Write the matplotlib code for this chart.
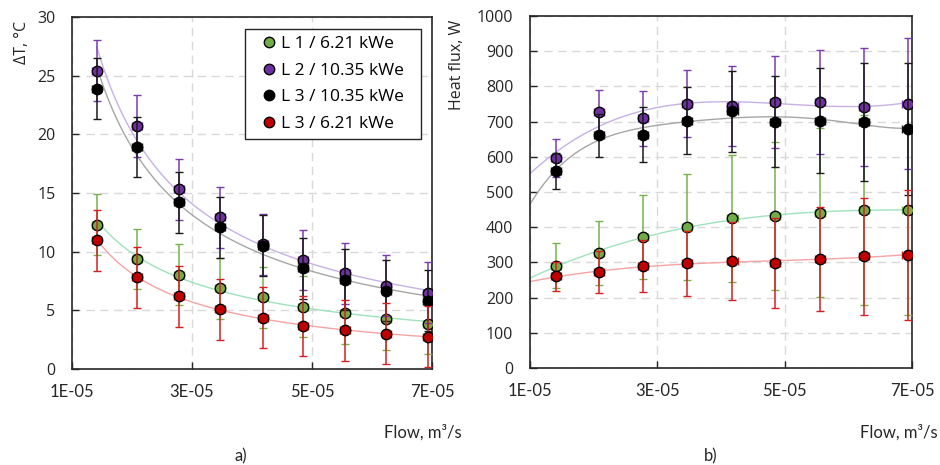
import numpy as np
import matplotlib
matplotlib.use("Agg")
import matplotlib.pyplot as plt
from matplotlib.lines import Line2D

# ---------------- data ----------------
flow = [1.41e-5, 2.08e-5, 2.78e-5, 3.47e-5, 4.18e-5, 4.85e-5, 5.55e-5, 6.24e-5, 6.93e-5]
flow_err = [0.08e-5] * 9

labels = ["L 1 / 6.21 kWe", "L 2 / 10.35 kWe", "L 3 / 10.35 kWe", "L 3 / 6.21 kWe"]

# a) temperature difference, °C
dT_L1_621 = [12.3, 9.4, 8.05, 6.9, 6.1, 5.3, 4.75, 4.26, 3.86]
dT_L2_1035 = [25.4, 20.7, 15.3, 12.95, 10.65, 9.3, 8.15, 7.1, 6.5]
dT_L3_1035 = [23.9, 18.9, 14.2, 12.1, 10.5, 8.6, 7.6, 6.65, 5.8]
dT_L3_621 = [10.97, 7.8, 6.2, 5.1, 4.35, 3.67, 3.3, 3.0, 2.75]
dT_err_L1_621 = [2.6, 2.55, 2.6, 2.6, 2.6, 2.6, 2.6, 2.6, 2.6]
dT_err_L2_1035 = [2.6, 2.65, 2.6, 2.6, 2.6, 2.55, 2.6, 2.6, 2.6]
dT_err_L3_1035 = [2.6, 2.55, 2.6, 2.6, 2.6, 2.6, 2.6, 2.6, 2.6]
dT_err_L3_621 = [2.6, 2.6, 2.6, 2.6, 2.6, 2.55, 2.6, 2.6, 2.6]

# b) heat flux, W
Q_L1_621 = [291, 328, 372, 400, 425, 433, 441, 448, 450]
Q_L2_1035 = [597, 726, 710, 751, 745, 755, 756, 742, 751]
Q_L3_1035 = [560, 661, 663, 703, 729, 700, 703, 698, 679]
Q_L3_621 = [260, 272, 289, 297, 304, 298, 310, 317, 321]
Q_err_L1_621 = [64, 91, 120, 150, 180, 210, 240, 270, 300]
Q_err_L2_1035 = [53, 64, 78, 95, 114, 130, 148, 167, 186]
Q_err_L3_1035 = [52, 61, 78, 95, 114, 130, 149, 168, 187]
Q_err_L3_621 = [40, 59, 74, 93, 111, 128, 148, 166, 185]

# polynomial trend-line orders for panel b)
trend_order_b = [3, 3, 5, 3]

xticks = [1e-5, 3e-5, 5e-5, 7e-5]
xticklabels = ["1E-05", "3E-05", "5E-05", "7E-05"]

# ---------------- styles ----------------
mcol = ["#70AD47", "#7030A0", "#000000", "#C00000"]
ecol = ["#74b34a", "#7a3ab0", "#1a1a1a", "#d42020"]
tcol = ["#9ee3bd", "#c7b1e6", "#a6a6a6", "#f5a3a3"]

W, H = 940, 465
fig = plt.figure(figsize=(W / 100, H / 100), dpi=100)
axA = fig.add_axes([72 / W, 1 - 369 / H, 360 / W, 352 / H])
axB = fig.add_axes([530 / W, 1 - 368 / H, 382 / W, 352 / H])

tick_font = "Open Sans"
cal_font = ["Lato", "DejaVu Sans"]

x = np.array(flow)


def style(ax, ymax, ystep):
    ax.set_xlim(1e-5, 7e-5)
    ax.set_ylim(0, ymax)
    ax.set_xticks(xticks)
    ax.set_xticklabels(xticklabels, fontfamily=cal_font, fontsize=12)
    yt = np.arange(0, ymax + ystep / 2, ystep)
    ax.set_yticks(yt)
    ax.set_yticklabels([f"{int(v)}" for v in yt], fontfamily=tick_font, fontsize=11.5, color="#262626")
    ax.tick_params(axis="y", direction="in", length=5, width=1, pad=12, colors="#262626")
    ax.tick_params(axis="x", direction="in", length=5, width=1, pad=11, colors="#262626")
    ax.grid(True, color="#d9d9d9", linestyle=(0, (6, 4)), linewidth=1)
    ax.set_axisbelow(True)
    for s in ax.spines.values():
        s.set_color("#262626")
        s.set_linewidth(1.2)


sA = [dT_L1_621, dT_L2_1035, dT_L3_1035, dT_L3_621]
eA = [dT_err_L1_621, dT_err_L2_1035, dT_err_L3_1035, dT_err_L3_621]
sB = [Q_L1_621, Q_L2_1035, Q_L3_1035, Q_L3_621]
eB = [Q_err_L1_621, Q_err_L2_1035, Q_err_L3_1035, Q_err_L3_621]

# a) power-law trend lines
xa = np.linspace(x[0], x[-1], 200)
for i, y in enumerate(sA):
    b, loga = np.polyfit(np.log(x), np.log(y), 1)
    axA.plot(xa, np.exp(loga) * xa ** b, color=tcol[i], lw=1, zorder=2)
# b) polynomial trend lines
xb = np.linspace(1e-5, 7e-5, 300)
for i, y in enumerate(sB):
    c = np.polyfit(x * 1e5, y, trend_order_b[i])
    axB.plot(xb, np.polyval(c, xb * 1e5), color=tcol[i], lw=1, zorder=2)

for ax, S, E in [(axA, sA, eA), (axB, sB, eB)]:
    for i in range(4):
        ax.errorbar(x, S[i], yerr=E[i], xerr=flow_err, fmt="o", ms=7.5,
                    mfc=mcol[i], mec="black", mew=1.0, ecolor=ecol[i],
                    elinewidth=1.1, capsize=3, capthick=1.1, zorder=3 + i,
                    label=labels[i])

style(axA, 30, 5)
style(axB, 1000, 100)

lh = [Line2D([], [], ls="none", marker="o", ms=7.5, mfc=mcol[i], mec="black", mew=1.0) for i in range(4)]
leg = axA.legend(lh, labels, loc="upper left",
                 bbox_to_anchor=((245 - 72) / 360, 0.3, 176 / 360, (369 - 29) / 352 - 0.3),
                 mode="expand", borderaxespad=0, frameon=True, fancybox=False, framealpha=1,
                 edgecolor="#262626", prop={"family": tick_font, "size": 12.5},
                 handlelength=2.0, handletextpad=-0.3, labelspacing=0.6,
                 borderpad=0.4)
leg.get_frame().set_linewidth(1)

axA.set_ylabel("ΔT, °C", loc="top", fontfamily=tick_font, fontsize=11.5, color="#262626")
axA.yaxis.set_label_coords(-0.117, 0.99)
axB.set_ylabel("Heat flux, W", loc="top", fontfamily=tick_font, fontsize=11.5, color="#262626")
axB.yaxis.set_label_coords(-0.170, 0.99)

axA.text((462 - 72) / 360, (369 - 432) / 352, "Flow, m³/s", transform=axA.transAxes,
         ha="right", va="center", fontfamily=cal_font, fontsize=12, color="#262626")
axB.text((938 - 530) / 382, (368 - 432) / 352, "Flow, m³/s", transform=axB.transAxes,
         ha="right", va="center", fontfamily=cal_font, fontsize=12, color="#262626")
fig.text(241 / W, 1 - 456 / H, "a)", ha="center", va="center", fontfamily=cal_font, fontsize=12, color="#262626")
fig.text(711 / W, 1 - 456 / H, "b)", ha="center", va="center", fontfamily=cal_font, fontsize=12, color="#262626")

fig.savefig("out.png", dpi=100)
